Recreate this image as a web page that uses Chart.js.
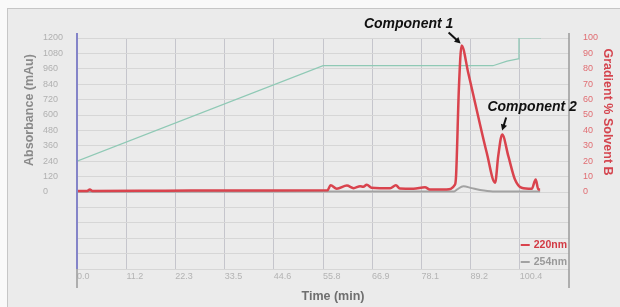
<!DOCTYPE html>
<html lang="en">
<head>
    <meta charset="UTF-8">
    <title>HPLC Chromatogram</title>
    <script src="https://cdn.jsdelivr.net/npm/chart.js"></script>
    <style>
        html, body {
            margin: 0;
            padding: 0;
            background: #f9f9f9;
            width: 620px;
            height: 307px;
            overflow: hidden;
        }
        .panel {
            position: absolute;
            left: 7px;
            top: 8px;
            width: 620px;
            height: 307px;
            background: #ebebeb;
            border-top: 1px solid #c6c6c6;
            border-left: 1px solid #c6c6c6;
        }
        .wrap {
            position: absolute;
            left: 0;
            top: 0;
            width: 620px;
            height: 307px;
        }
    </style>
</head>
<body>
    <div class="panel"></div>
    <div class="wrap"><canvas id="chrom"></canvas></div>

    <script>
        // 220 nm trace (time in min, absorbance in mAu)
        const time220 = [0, 2.3, 2.9, 3.5, 20, 40, 56.8, 57.5, 58.9, 61.2, 62.7, 64.2, 64.9, 65.7, 66.8, 68.7, 71.0, 72.3, 73.2, 76.3, 78.9, 80.0, 83.8, 85.7, 85.95, 86.6, 87.2, 88.7, 90.6, 92.9, 94.8, 95.5, 96.4, 97.8, 99.3, 100.8, 103.1, 104.0, 104.6, 105.0];
        const abs220 = [8, 8, 20, 8, 10, 12, 14, 53, 25, 50, 30, 45, 40, 57, 33, 30, 30, 53, 27, 25, 37, 20, 20, 57, 130, 820, 1142, 929, 643, 306, 72, 279, 448, 279, 97, 33, 25, 97, 20, 20];

        // 254 nm trace
        const time254 = [0, 50, 85.5, 86.2, 87.6, 89.5, 91.4, 94.3, 105.0];
        const abs254 = [2, 3, 4, 20, 45, 30, 15, 4, 3];

        // gradient programme (% solvent B)
        const timeGrad = [0, 55.8, 94.3, 97.5, 100.0, 100.2, 105.2];
        const pctB = [20, 82, 82, 85, 86.5, 100, 100];

        // axis ticks
        const timeTicks = ['0.0', '11.2', '22.3', '33.5', '44.6', '55.8', '66.9', '78.1', '89.2', '100.4'];
        const absTicks = [0, 120, 240, 360, 480, 600, 720, 840, 960, 1080, 1200];
        const pctTicks = [0, 10, 20, 30, 40, 50, 60, 70, 80, 90, 100];

        // peak annotations
        const peakNames = ['Component 1', 'Component 2'];
        const peakTimes = [87.2, 96.4];
        const peakAbs = [1142, 448];

        const FONT = '"Liberation Sans", Arial, sans-serif';
        const RED = '#d9434d';
        const GREY = '#a2a2a2';
        const GREEN = '#8fc9b5';

        function toPoints(xs, ys) {
            return xs.map((x, i) => ({ x: x, y: ys[i] }));
        }

        // label offsets for the annotations (pixels relative to the peak)
        const annotStyle = [
            { text: [-53, -21], head: [-1, -2], tail: [-13, -13] },
            { text: [30, -27], head: [0, -4], tail: [4, -17] }
        ];

        const decorPlugin = {
            id: 'decor',
            afterDraw(chart) {
                const ctx = chart.ctx;
                const area = chart.chartArea;
                const x = chart.scales.x;
                const y = chart.scales.y;
                const zeroY = y.getPixelForValue(0);
                const topY = y.getPixelForValue(1200);

                ctx.save();
                // axis lines
                ctx.lineWidth = 2;
                ctx.strokeStyle = '#8484c8';
                ctx.beginPath();
                ctx.moveTo(area.left, area.top - 5);
                ctx.lineTo(area.left, area.bottom);
                ctx.stroke();
                ctx.strokeStyle = '#9a9a9a';
                ctx.lineWidth = 1.5;
                ctx.beginPath();
                ctx.moveTo(area.left, area.bottom);
                ctx.lineTo(area.left, area.bottom + 19);
                ctx.stroke();
                ctx.beginPath();
                ctx.moveTo(area.right, area.top - 5);
                ctx.lineTo(area.right, area.bottom + 19);
                ctx.stroke();

                // axis titles
                ctx.font = 'bold 12.5px ' + FONT;
                ctx.textAlign = 'center';
                ctx.textBaseline = 'middle';
                const midY = (zeroY + topY) / 2;

                ctx.save();
                ctx.translate(30, midY - 5);
                ctx.rotate(-Math.PI / 2);
                ctx.fillStyle = '#8a8a8a';
                ctx.fillText('Absorbance (mAu)', 0, 0);
                ctx.restore();

                ctx.save();
                ctx.translate(607, midY - 3);
                ctx.rotate(Math.PI / 2);
                ctx.fillStyle = '#d4454f';
                ctx.fillText('Gradient % Solvent B', 0, 0);
                ctx.restore();

                ctx.fillStyle = '#6f6f6f';
                ctx.fillText('Time (min)', (area.left + area.right) / 2 + 10, 297);

                // legend
                const legendItems = chart.data.datasets.filter(d => d.inLegend);
                ctx.font = 'bold 10.5px ' + FONT;
                ctx.textAlign = 'right';
                legendItems.forEach((d, i) => {
                    const ly = area.bottom - 24 + i * 17;
                    const tx = area.right - 2;
                    const w = ctx.measureText(d.label).width;
                    ctx.fillStyle = d.legendText;
                    ctx.fillText(d.label, tx, ly);
                    ctx.strokeStyle = d.borderColor;
                    ctx.lineWidth = 2;
                    ctx.beginPath();
                    ctx.moveTo(tx - w - 13, ly);
                    ctx.lineTo(tx - w - 4, ly);
                    ctx.stroke();
                });

                // peak annotations
                ctx.font = 'italic bold 14px ' + FONT;
                ctx.textAlign = 'center';
                ctx.fillStyle = '#111';
                ctx.strokeStyle = '#111';
                peakNames.forEach((name, i) => {
                    const px = x.getPixelForValue(peakTimes[i]);
                    const py = y.getPixelForValue(peakAbs[i]);
                    const s = annotStyle[i];
                    ctx.fillText(name, px + s.text[0], py + s.text[1]);
                    const hx = px + s.head[0], hy = py + s.head[1];
                    const tx = px + s.tail[0], ty = py + s.tail[1];
                    const ang = Math.atan2(hy - ty, hx - tx);
                    const L = 6;
                    ctx.lineWidth = 2;
                    ctx.beginPath();
                    ctx.moveTo(tx, ty);
                    ctx.lineTo(hx - Math.cos(ang) * L * 0.8, hy - Math.sin(ang) * L * 0.8);
                    ctx.stroke();
                    ctx.beginPath();
                    ctx.moveTo(hx, hy);
                    ctx.lineTo(hx - L * Math.cos(ang) + 3.2 * Math.sin(ang), hy - L * Math.sin(ang) - 3.2 * Math.cos(ang));
                    ctx.lineTo(hx - L * Math.cos(ang) - 3.2 * Math.sin(ang), hy - L * Math.sin(ang) + 3.2 * Math.cos(ang));
                    ctx.closePath();
                    ctx.fill();
                });
                ctx.restore();
            }
        };

        const ctx = document.getElementById('chrom').getContext('2d');
        new Chart(ctx, {
            type: 'line',
            data: {
                datasets: [
                    {
                        label: '220nm',
                        data: toPoints(time220, abs220),
                        borderColor: RED,
                        legendText: '#d23a44',
                        inLegend: true,
                        borderWidth: 2.5,
                        pointRadius: 0,
                        cubicInterpolationMode: 'monotone',
                        yAxisID: 'y',
                        order: 0
                    },
                    {
                        label: '254nm',
                        data: toPoints(time254, abs254),
                        borderColor: GREY,
                        legendText: '#9a9a9a',
                        inLegend: true,
                        borderWidth: 2,
                        pointRadius: 0,
                        cubicInterpolationMode: 'monotone',
                        yAxisID: 'y',
                        order: 1
                    },
                    {
                        label: 'Gradient',
                        data: toPoints(timeGrad, pctB),
                        borderColor: GREEN,
                        borderWidth: 1.2,
                        pointRadius: 0,
                        tension: 0,
                        yAxisID: 'y2',
                        order: 2
                    }
                ]
            },
            options: {
                responsive: true,
                maintainAspectRatio: false,
                animation: false,
                layout: { padding: { left: 43, top: 38, right: 20, bottom: 18 } },
                plugins: {
                    legend: { display: false },
                    tooltip: { enabled: false }
                },
                scales: {
                    x: {
                        type: 'linear',
                        min: 0,
                        max: 111.55,
                        afterBuildTicks: (scale) => {
                            scale.ticks = timeTicks.map(t => ({ value: parseFloat(t) }));
                        },
                        afterFit: (scale) => { scale.height = 20; },
                        grid: { color: '#c5c5cc', lineWidth: 1, drawTicks: false },
                        border: { display: false },
                        ticks: {
                            align: 'start',
                            padding: 2,
                            color: '#b3b3b3',
                            font: { family: FONT, size: 9 },
                            maxRotation: 0,
                            autoSkip: false,
                            callback: (v, i) => timeTicks[i]
                        }
                    },
                    y: {
                        position: 'left',
                        min: -600,
                        max: 1200,
                        afterFit: (scale) => { scale.width = 34; },
                        grid: { color: '#d6d6d6', lineWidth: 1, drawTicks: false },
                        border: { display: false },
                        ticks: {
                            stepSize: 120,
                            crossAlign: 'far',
                            color: '#b0b0b0',
                            font: { family: FONT, size: 9 },
                            callback: (v) => absTicks.includes(v) ? String(v) : ''
                        }
                    },
                    y2: {
                        position: 'right',
                        min: -50,
                        max: 100,
                        afterFit: (scale) => { scale.width = 31; },
                        grid: { display: false, drawTicks: false },
                        border: { display: false },
                        ticks: {
                            stepSize: 10,
                            padding: 14,
                            crossAlign: 'near',
                            color: '#e06d72',
                            font: { family: FONT, size: 9 },
                            callback: (v) => pctTicks.includes(v) ? String(v) : ''
                        }
                    }
                }
            },
            plugins: [decorPlugin]
        });
    </script>
</body>
</html>
